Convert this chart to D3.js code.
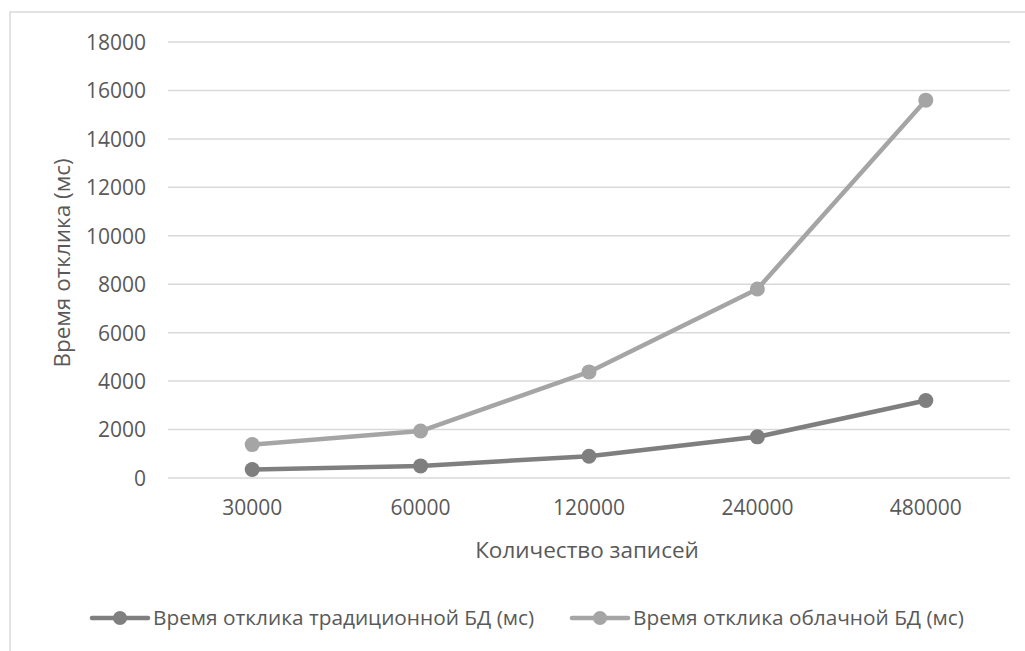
<!DOCTYPE html>
<html>
<head>
<meta charset="utf-8">
<script src="https://cdn.jsdelivr.net/npm/d3@7"></script>
<style>
  html, body { margin: 0; padding: 0; background: #fff; }
  svg { display: block; }
  text { font-family: "Open Sans", "Noto Sans", sans-serif; fill: #595959; }
</style>
</head>
<body>
<svg id="chart" width="1025" height="651"></svg>
<script>
const categories = ["30000", "60000", "120000", "240000", "480000"];
const traditional = [350, 500, 900, 1700, 3200];
const cloud = [1380, 1940, 4380, 7800, 15600];
const yTicks = [0, 2000, 4000, 6000, 8000, 10000, 12000, 14000, 16000, 18000];
const seriesNames = ["Время отклика традиционной БД (мс)", "Время отклика облачной БД (мс)"];
const seriesColors = ["#7f7f7f", "#a5a5a5"];
const xTitle = "Количество записей";
const yTitle = "Время отклика (мс)";

const svg = d3.select("#chart");
const W = 1025, H = 651;
const plot = { left: 168, right: 1010, top: 42, bottom: 478 };

// chart border
svg.append("rect")
  .attr("x", 10).attr("y", 12)
  .attr("width", W + 20).attr("height", H + 20)
  .attr("fill", "none").attr("stroke", "#d9d9d9").attr("stroke-width", 1.5);

const x = d3.scaleBand().domain(categories).range([plot.left, plot.right]).padding(0);
const y = d3.scaleLinear().domain([0, 18000]).range([plot.bottom, plot.top]);

// gridlines
svg.append("g").selectAll("line").data(yTicks).join("line")
  .attr("x1", plot.left).attr("x2", plot.right)
  .attr("y1", d => y(d)).attr("y2", d => y(d))
  .attr("stroke", "#d9d9d9").attr("stroke-width", 1.5);

// y axis labels
const yAxis = d3.axisLeft(y).tickValues(yTicks).tickSize(0).tickPadding(0).tickFormat(d => String(d));
const gy = svg.append("g").attr("transform", `translate(${146},0)`).call(yAxis);
gy.select(".domain").remove();
gy.selectAll("text").attr("font-size", 21).attr("fill", "#595959")
  .attr("font-family", '"Open Sans", sans-serif').attr("dy", "0.35em");

// x axis labels
const xAxis = d3.axisBottom(x).tickSize(0).tickPadding(0);
const gx = svg.append("g").attr("transform", `translate(0,${508})`).call(xAxis);
gx.select(".domain").remove();
gx.selectAll("text").attr("font-size", 21).attr("fill", "#595959")
  .attr("font-family", '"Open Sans", sans-serif').attr("dy", "0.35em");

// axis titles
svg.append("text")
  .attr("x", (plot.left + plot.right) / 2 - 2).attr("y", 550)
  .attr("dy", "0.35em").attr("text-anchor", "middle")
  .attr("font-size", 22.5).text(xTitle);
svg.append("text")
  .attr("transform", `translate(62,${(plot.top + plot.bottom) / 2 + 3}) rotate(-90)`)
  .attr("dy", "0.35em").attr("text-anchor", "middle")
  .attr("font-size", 22.5).text(yTitle);

// series
const cx = d => x(d) + x.bandwidth() / 2;
const line = d3.line().x(d => cx(d.c)).y(d => y(d.v));
const allSeries = [traditional, cloud];
allSeries.forEach((vals, i) => {
  const pts = categories.map((c, j) => ({ c, v: vals[j] }));
  svg.append("path").datum(pts)
    .attr("d", line).attr("fill", "none")
    .attr("stroke", seriesColors[i]).attr("stroke-width", 4.5)
    .attr("stroke-linejoin", "round").attr("stroke-linecap", "round");
  svg.append("g").selectAll("circle").data(pts).join("circle")
    .attr("cx", d => cx(d.c)).attr("cy", d => y(d.v)).attr("r", 7.5)
    .attr("fill", seriesColors[i]);
});

// legend
const legendX = [92, 572];
const legendY = 618;
seriesNames.forEach((name, i) => {
  const g = svg.append("g").attr("transform", `translate(${legendX[i]},${legendY})`);
  g.append("line").attr("x1", 0).attr("x2", 56).attr("y1", 0).attr("y2", 0)
    .attr("stroke", seriesColors[i]).attr("stroke-width", 4.5).attr("stroke-linecap", "round");
  g.append("circle").attr("cx", 28).attr("cy", 0).attr("r", 7).attr("fill", seriesColors[i]);
  g.append("text").attr("x", 61).attr("y", 0).attr("dy", "0.35em")
    .attr("font-size", 20.8).text(name);
});
</script>
</body>
</html>
